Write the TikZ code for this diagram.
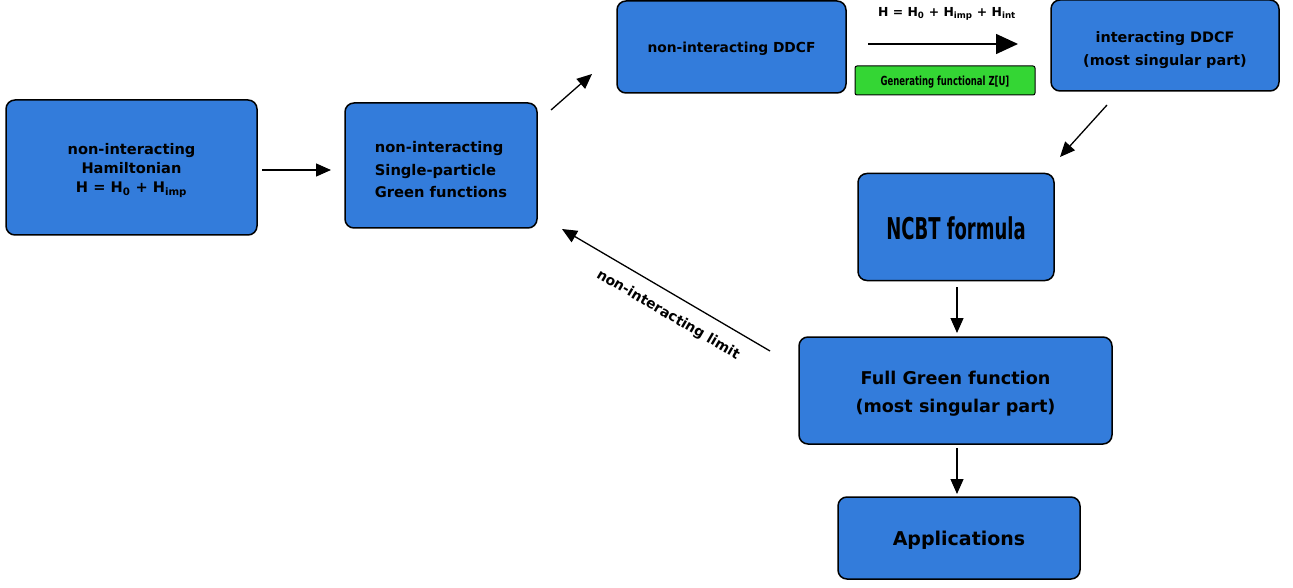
\documentclass[tikz,border=0pt]{standalone}
\usepackage{fontspec}
\setmainfont{DejaVu Sans}
\newfontfamily\condfont[FakeStretch=0.6]{DejaVu Sans}
\newfontfamily\condfontb[FakeStretch=0.68]{DejaVu Sans}
\usetikzlibrary{arrows.meta}
\definecolor{boxblue}{RGB}{51,124,219}
\definecolor{boxgreen}{RGB}{52,214,52}
\begin{document}
\begin{tikzpicture}[x=1pt,y=-1pt,
  box/.style={draw=black, line width=1.5pt, rounded corners=9pt, fill=boxblue, inner sep=0pt},
  txt/.style={inner sep=0pt, align=center},
  arr/.style={line width=1.3pt, -{Triangle[length=15pt,width=13pt]}},
  bigarr/.style={line width=1.5pt, -{Triangle[length=22pt,width=20pt]}}]
\useasboundingbox (0,0) rectangle (1293,588);

\node[box, minimum width=251pt, minimum height=135pt] (ham) at (131.5,167.5) {};
\node[txt, font=\bfseries\fontsize{14.6}{19}\selectfont] (hamt) at ([yshift=-3pt]ham.center)
  {non-interacting\\Hamiltonian\\H = H\textsubscript{0} + H\textsubscript{imp}};
\node[box, minimum width=192pt, minimum height=125pt] (sp) at (441,165.5) {};
\node[txt, align=left, font=\bfseries\fontsize{14.7}{22.5}\selectfont] (spt) at ([yshift=-4.5pt]sp.center)
  {non-interacting\\Single-particle\\Green functions};
\node[box, minimum width=229pt, minimum height=92pt] (nddcf) at (731.5,47) {};
\node[txt, font=\bfseries\fontsize{13.8}{22}\selectfont] (nddcft) at ([yshift=-2pt]nddcf.center)
  {non-interacting DDCF};
\node[box, minimum width=228pt, minimum height=91pt] (iddcf) at (1165,45.5) {};
\node[txt, font=\bfseries\fontsize{14.4}{23}\selectfont] (iddcft) at ([yshift=-5pt]iddcf.center)
  {interacting DDCF\\(most singular part)};
\node[box, minimum width=196pt, minimum height=107pt] (ncbt) at (956,227) {};
\node[txt, font=\bfseries\condfont\fontsize{30}{34}\selectfont] (ncbtt) at ([yshift=-1pt]ncbt.center)
  {NCBT formula};
\node[box, minimum width=313pt, minimum height=107pt] (full) at (955.5,390.5) {};
\node[txt, font=\bfseries\fontsize{17.6}{28}\selectfont] (fullt) at ([yshift=-3pt]full.center)
  {Full Green function\\(most singular part)};
\node[box, minimum width=242pt, minimum height=82pt] (app) at (959,538) {};
\node[txt, font=\bfseries\fontsize{19}{24}\selectfont] (appt) at ([yshift=-2pt]app.center)
  {Applications};
\node[draw=black, line width=1pt, rounded corners=2pt, fill=boxgreen, minimum width=180pt, minimum height=29pt, inner sep=0pt] (gen) at (945,80.5) {};
\node[txt, font=\bfseries\condfontb\fontsize{12.5}{14}\selectfont] (gent) at ([yshift=-2pt]gen.center) {Generating functional Z[U]};
\node[txt, font=\bfseries\fontsize{12.4}{14}\selectfont] (hlab) at (947,14)
  {H = H\textsubscript{0} + H\textsubscript{imp} + H\textsubscript{int}};

\coordinate (a1s) at (262,170); \coordinate (a1e) at (331,170);
\coordinate (a2s) at (551,110); \coordinate (a2e) at (592,74);
\coordinate (a3s) at (868,44);  \coordinate (a3e) at (1018,44);
\coordinate (a4s) at (1107,105); \coordinate (a4e) at (1060,157);
\coordinate (a5s) at (957,287); \coordinate (a5e) at (957,333);
\coordinate (a6s) at (957,448); \coordinate (a6e) at (957,494);
\coordinate (a7s) at (770,351); \coordinate (a7e) at (562,229);

\draw[arr] (a1s) -- (a1e);
\draw[arr] (a2s) -- (a2e);
\draw[bigarr] (a3s) -- (a3e);
\draw[arr] (a4s) -- (a4e);
\draw[arr] (a5s) -- (a5e);
\draw[arr] (a6s) -- (a6e);
\draw[arr] (a7s) -- (a7e);
\node[font=\bfseries\fontsize{14}{16}\selectfont, rotate=-30.4, inner sep=0pt] (lim) at (668,315) {non-interacting limit};
\end{tikzpicture}
\end{document}
